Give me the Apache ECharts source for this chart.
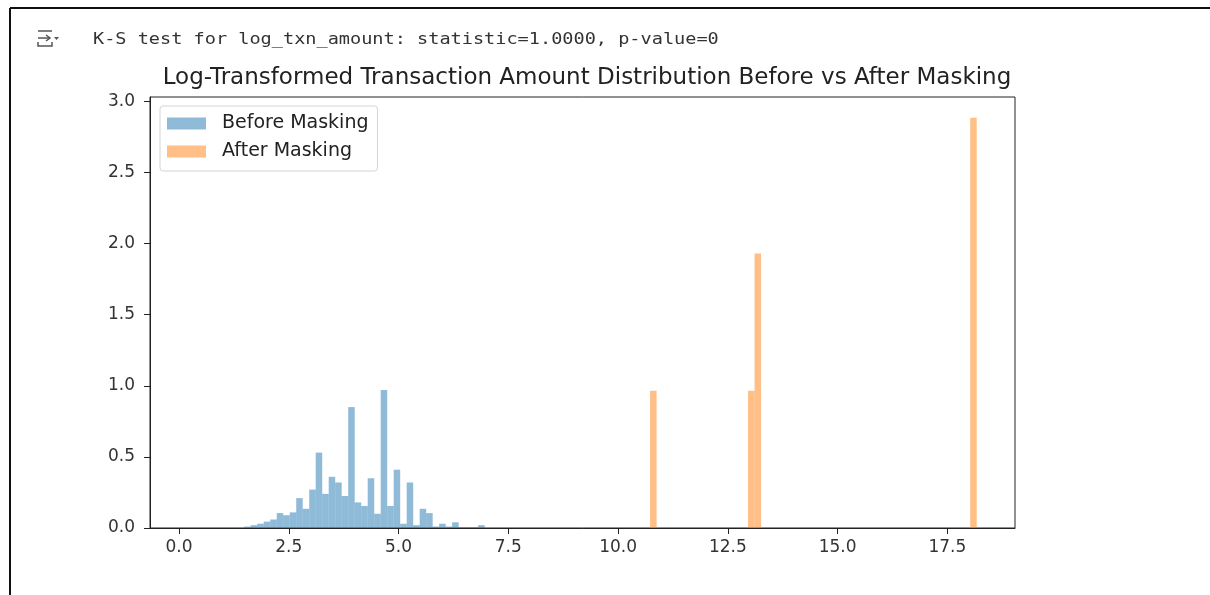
<!DOCTYPE html>
<html>
<head>
<meta charset="utf-8">
<script src="https://cdn.jsdelivr.net/npm/echarts@6/dist/echarts.min.js"></script>
<style>
  html, body { margin: 0; padding: 0; background: #fff; }
  #chart { width: 1210px; height: 595px; }
</style>
</head>
<body>
<div id="chart"></div>
<script>
// histogram bins (density)
const binWidth = 0.148;
const blueStart = 1.486;
const blueHeights = [
  0.01, 0.02, 0.03, 0.045, 0.06, 0.105, 0.09, 0.11, 0.21, 0.135, 0.27,
  0.53, 0.24, 0.36, 0.32, 0.225, 0.85, 0.18, 0.155, 0.35, 0.10, 0.97,
  0.155, 0.41, 0.03, 0.32, 0.02, 0.135, 0.105, 0.01, 0.03, 0.01, 0.04,
  0.005, 0.005, 0.005, 0.02
];
const orangeLefts = [10.73, 12.96, 13.108, 18.02];
const orangeHeights = [0.965, 0.965, 1.93, 2.885];
const xTicks = [0, 2.5, 5, 7.5, 10, 12.5, 15, 17.5];
const yTicks = [0, 0.5, 1, 1.5, 2, 2.5, 3];

const blueData = blueHeights.map((h, i) => {
  const x0 = blueStart + i * binWidth;
  return [x0, x0 + binWidth, h];
});
const orangeData = orangeLefts.map((x0, i) => [x0, x0 + binWidth, orangeHeights[i]]);

const blueColor = 'rgba(31,119,180,0.5)';
const orangeColor = 'rgba(255,127,14,0.5)';

function histItem(color) {
  return function (params, api) {
    const top = api.coord([api.value(0), api.value(2)]);
    const base = api.coord([api.value(1), 0]);
    return {
      type: 'rect',
      shape: { x: top[0], y: top[1], width: base[0] - top[0], height: base[1] - top[1] },
      style: { fill: color }
    };
  };
}

const chart = echarts.init(document.getElementById('chart'), null, { renderer: 'canvas' });

const tickFont = { fontFamily: 'DejaVu Sans', fontSize: 17, color: '#333' };

chart.setOption({
  animation: false,
  title: {
    text: 'Log-Transformed Transaction Amount Distribution Before vs After Masking',
    left: 582, top: 62, textAlign: 'center',
    textStyle: { fontFamily: 'DejaVu Sans', fontSize: 23, fontWeight: 'normal', color: '#222' }
  },
  graphic: [
    { type: 'line', shape: { x1: 10, y1: 8, x2: 1210, y2: 8 }, style: { stroke: '#111', lineWidth: 2 } },
    { type: 'line', shape: { x1: 10, y1: 8, x2: 10, y2: 595 }, style: { stroke: '#111', lineWidth: 2 } },
    {
      type: 'text', x: 93, y: 32, scaleX: 1.16,
      style: { text: 'K-S test for log_txn_amount: statistic=1.0000, p-value=0', font: '16px "DejaVu Sans Mono"', fill: '#333' }
    },
    { type: 'line', shape: { x1: 38, y1: 31, x2: 52, y2: 31 }, style: { stroke: '#555', lineWidth: 1.5 } },
    { type: 'line', shape: { x1: 38, y1: 38, x2: 50, y2: 38 }, style: { stroke: '#555', lineWidth: 1.5 } },
    { type: 'polyline', shape: { points: [[46, 35], [50, 38], [46, 41]] }, style: { stroke: '#555', lineWidth: 1.5, fill: null } },
    { type: 'polyline', shape: { points: [[38, 42], [38, 46], [52, 46], [52, 42]] }, style: { stroke: '#555', lineWidth: 1.5, fill: null } },
    { type: 'polygon', shape: { points: [[54, 37], [59, 37], [56.5, 40]] }, style: { fill: '#555' } }
  ],
  legend: {
    left: 160, top: 106,
    orient: 'vertical',
    itemWidth: 39, itemHeight: 12, itemGap: 9,
    padding: [8, 9, 10, 7],
    borderColor: '#d4d4d4', borderWidth: 1, borderRadius: 3,
    backgroundColor: 'rgba(255,255,255,0.8)',
    textStyle: { fontFamily: 'DejaVu Sans', fontSize: 19, color: '#222', padding: [0, 0, 0, 11] },
    data: [
      { name: 'Before Masking', icon: 'rect', itemStyle: { color: blueColor } },
      { name: 'After Masking', icon: 'rect', itemStyle: { color: orangeColor } }
    ]
  },
  grid: {
    left: 150, right: 195, top: 97, bottom: 67,
    show: true, borderColor: '#222', borderWidth: 1, backgroundColor: 'transparent'
  },
  xAxis: {
    type: 'value', min: -0.66, max: 19.04,
    axisLine: { show: true, onZero: false, lineStyle: { color: '#222' } },
    axisTick: { show: true, length: 6, lineStyle: { color: '#222' }, customValues: xTicks },
    axisLabel: { ...tickFont, margin: 11, customValues: xTicks, formatter: v => v.toFixed(1) },
    splitLine: { show: false }
  },
  yAxis: {
    type: 'value', min: 0, max: 3.03,
    axisLine: { show: true, onZero: false, lineStyle: { color: '#222' } },
    axisTick: { show: true, length: 6, lineStyle: { color: '#222' }, customValues: yTicks },
    axisLabel: { ...tickFont, margin: 15, customValues: yTicks, formatter: v => v.toFixed(1) },
    splitLine: { show: false }
  },
  series: [
    {
      name: 'Before Masking', type: 'custom',
      renderItem: histItem(blueColor),
      encode: { x: [0, 1], y: 2 },
      itemStyle: { color: blueColor },
      data: blueData
    },
    {
      name: 'After Masking', type: 'custom',
      renderItem: histItem(orangeColor),
      encode: { x: [0, 1], y: 2 },
      itemStyle: { color: orangeColor },
      data: orangeData
    }
  ]
});
</script>
</body>
</html>
